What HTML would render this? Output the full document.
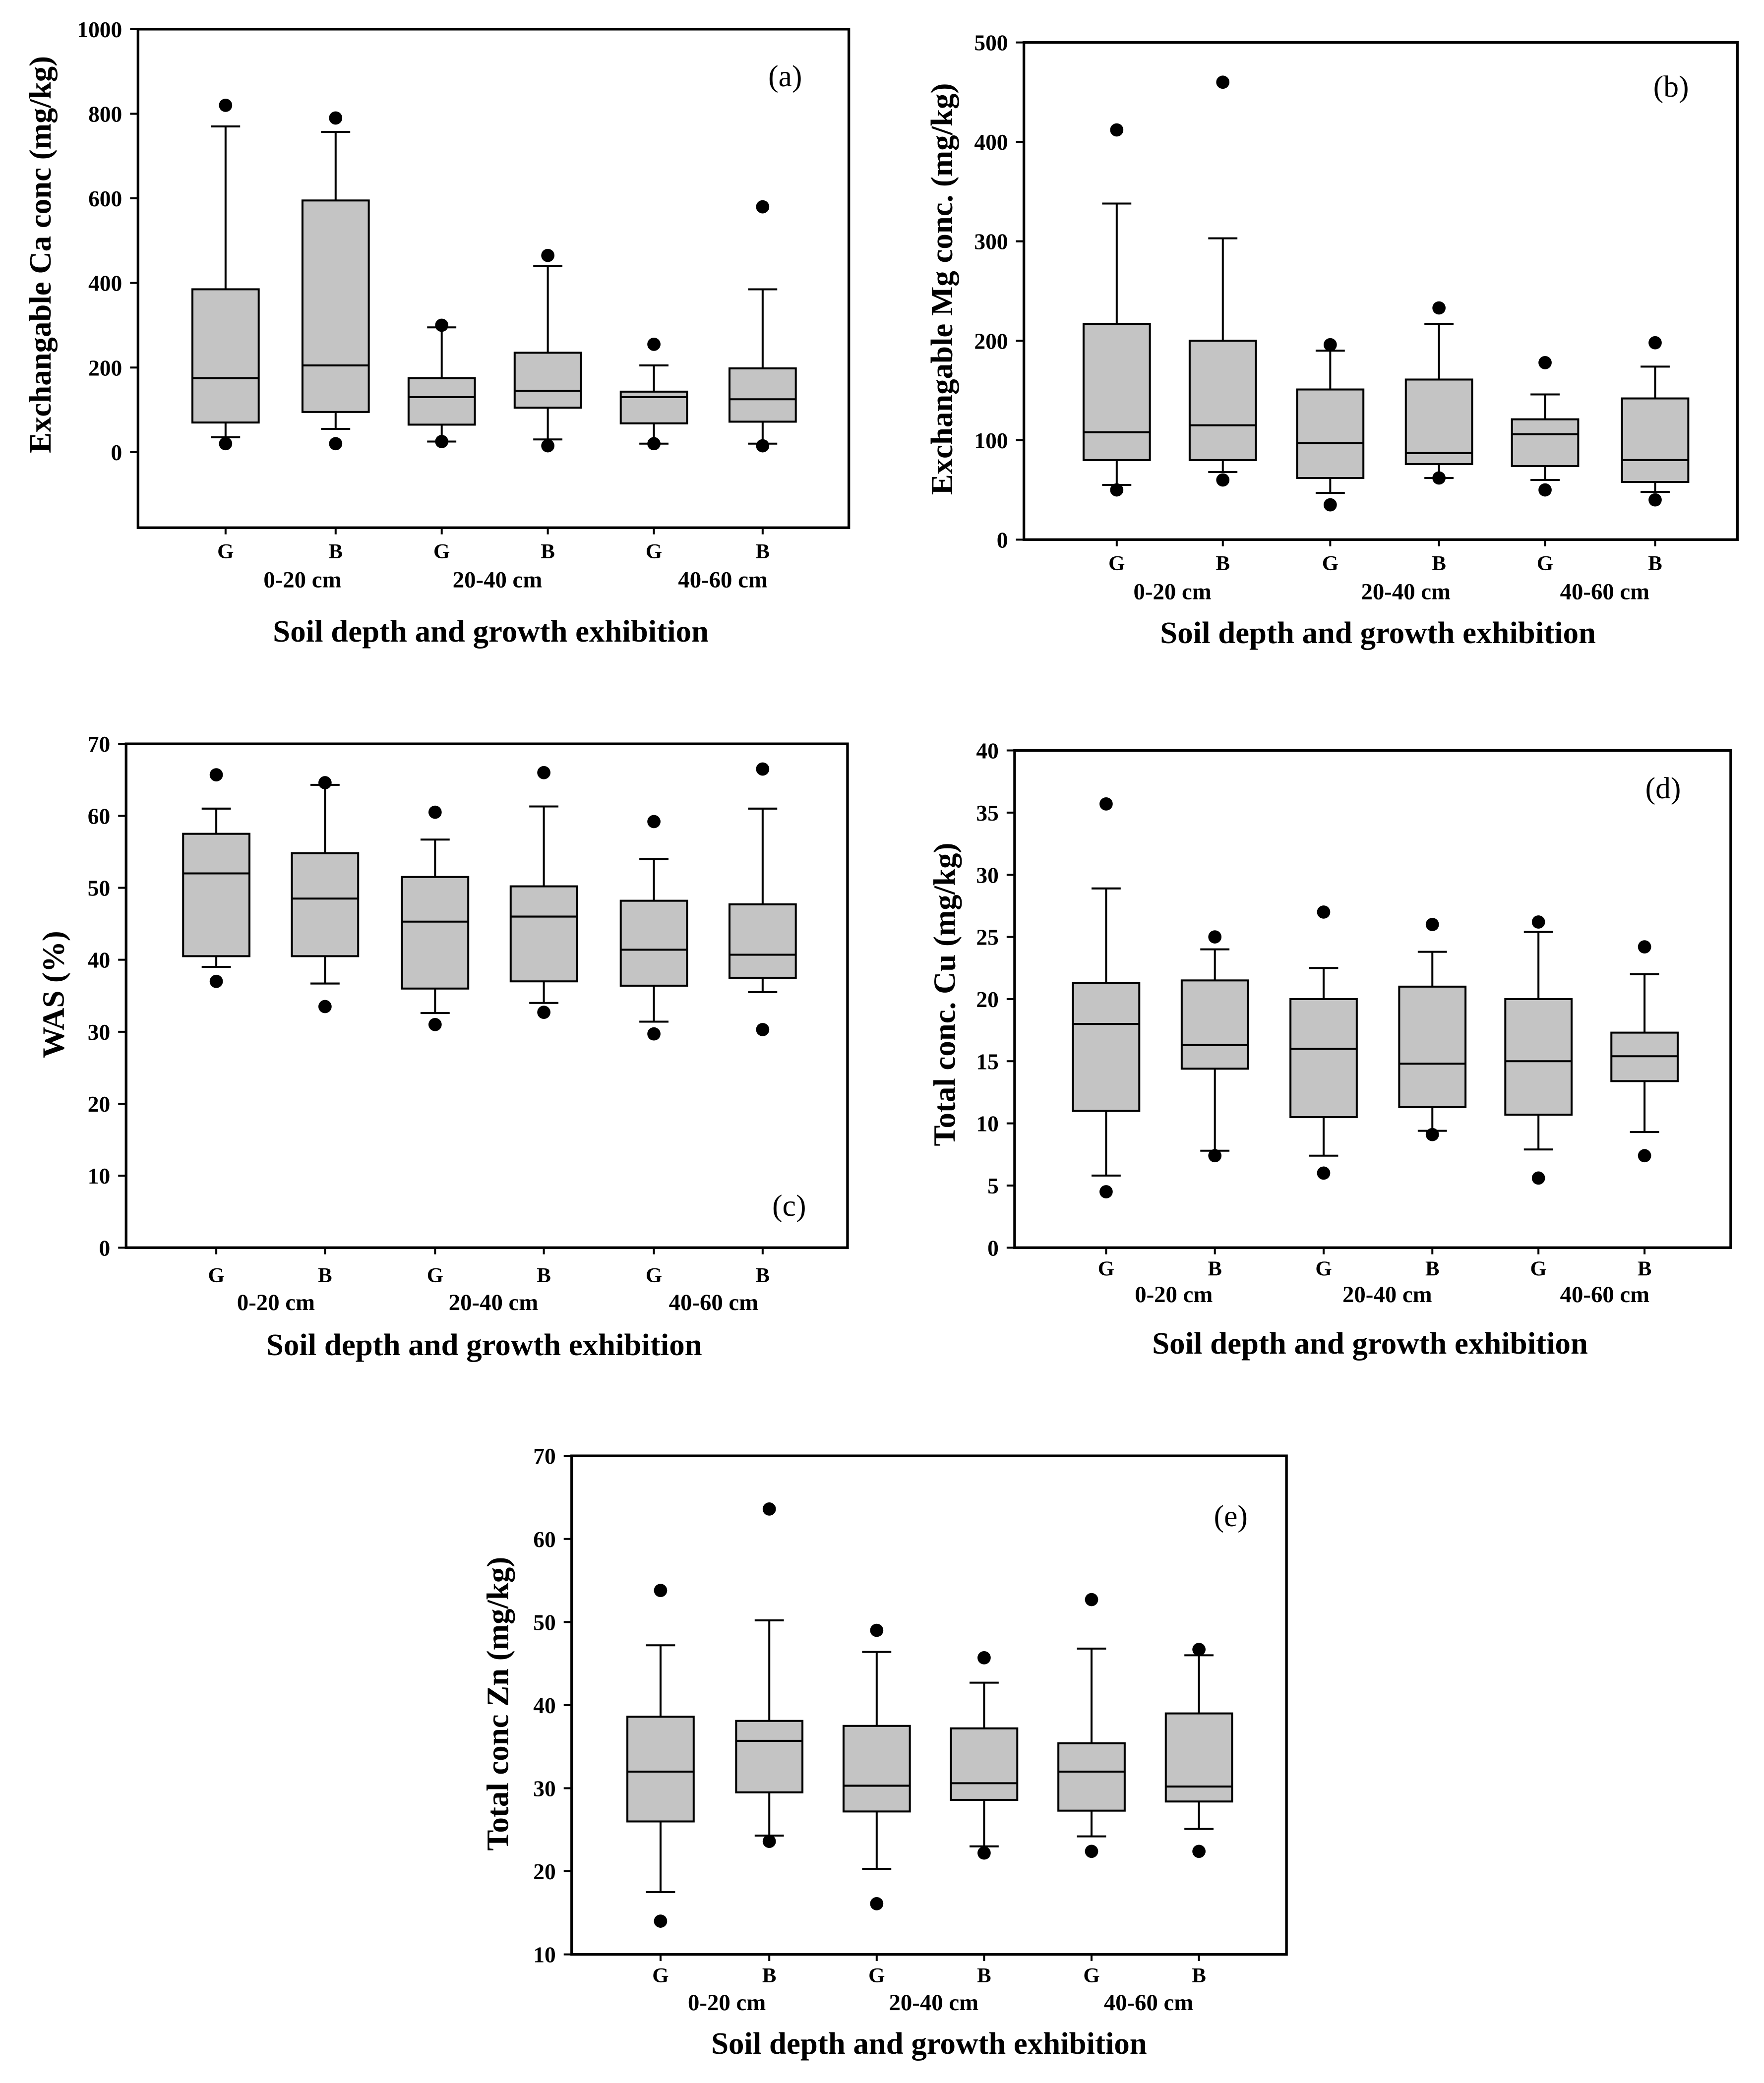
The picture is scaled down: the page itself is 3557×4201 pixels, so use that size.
<!DOCTYPE html>
<html><head><meta charset="utf-8"><style>
html,body{margin:0;padding:0;background:#fff;}
svg{display:block;}
text{font-family:"Liberation Serif",serif;font-weight:bold;fill:#000;}
</style></head><body>
<svg id="fig" width="3557" height="4201" viewBox="0 0 1330 1571" xmlns="http://www.w3.org/2000/svg"></svg>
<script>
// ---- data ----
const categories = ["G","B","G","B","G","B"];
const depthLabels = ["0-20 cm","20-40 cm","40-60 cm"];
// each box: [whiskerLow, q1, median, q3, whiskerHigh, outlierHigh, outlierLow]
const caBoxes = [[35,70,175,385,770,820,20],[55,95,205,595,757,790,20],[25,65,130,175,295,300,25],[30,105,145,235,440,465,15],[20,68,130,143,205,255,20],[20,72,125,198,385,580,15]];
const mgBoxes = [[55,80,108,217,338,412,50],[68,80,115,200,303,460,60],[47,62,97,151,190,196,35],[62,76,87,161,217,233,62],[60,74,106,121,146,178,50],[48,58,80,142,174,198,40]];
const wasBoxes = [[39,40.5,52,57.5,61,65.7,37],[36.7,40.5,48.5,54.8,64.3,64.6,33.5],[32.6,36,45.3,51.5,56.7,60.5,31],[34,37,46,50.2,61.3,66,32.7],[31.4,36.4,41.4,48.2,54,59.2,29.7],[35.5,37.5,40.7,47.7,61,66.5,30.3]];
const cuBoxes = [[5.8,11,18,21.3,28.9,35.7,4.5],[7.8,14.4,16.3,21.5,24,25,7.4],[7.4,10.5,16,20,22.5,27,6],[9.4,11.3,14.8,21,23.8,26,9.1],[7.9,10.7,15,20,25.4,26.2,5.6],[9.3,13.4,15.4,17.3,22,24.2,7.4]];
const znBoxes = [[17.5,26,32,38.6,47.2,53.8,14],[24.3,29.5,35.7,38.1,50.2,63.6,23.6],[20.3,27.2,30.3,37.5,46.4,49,16.1],[23,28.6,30.6,37.2,42.7,45.7,22.2],[24.2,27.3,32,35.4,46.8,52.7,22.4],[25.1,28.4,30.2,39,46,46.7,22.4]];
const caTicks = [0,200,400,600,800,1000];
const mgTicks = [0,100,200,300,400,500];
const wasTicks = [0,10,20,30,40,50,60,70];
const cuTicks = [0,5,10,15,20,25,30,35,40];
const znTicks = [10,20,30,40,50,60,70];

const NS="http://www.w3.org/2000/svg";
const svg=document.getElementById('fig');
function el(tag,attrs,parent){const e=document.createElementNS(NS,tag);for(const k in attrs)e.setAttribute(k,attrs[k]);(parent||svg).appendChild(e);return e;}

const panels=[
 {id:'a',boxes:caBoxes,ticks:caTicks,L:104,T:22,R:640,B:398,v0:0,y0:341,v1:1000,y1:22,xs:[170,253,333,413,493,575],ly:415,dy:437,ty:476,dxs:[228,375,545],title:'Exchangable Ca conc (mg/kg)',tx:30,tyc:192,lab:'(a)',lx:592,lyy:57},
 {id:'b',boxes:mgBoxes,ticks:mgTicks,L:772,T:32,R:1310,B:407,v0:0,y0:407,v1:500,y1:32,xs:[842,922,1003,1085,1165,1248],ly:424,dy:446,ty:477,dxs:[884,1060,1210],title:'Exchangable Mg conc. (mg/kg)',tx:710,tyc:218,lab:'(b)',lx:1260,lyy:65},
 {id:'c',boxes:wasBoxes,ticks:wasTicks,L:95,T:561,R:639,B:941,v0:0,y0:941,v1:70,y1:561,xs:[163,245,328,410,493,575],ly:961,dy:982,ty:1014,dxs:[208,372,538],title:'WAS (%)',tx:40,tyc:750,lab:'(c)',lx:595,lyy:909},
 {id:'d',boxes:cuBoxes,ticks:cuTicks,L:765,T:566,R:1305,B:941,v0:0,y0:941,v1:40,y1:566,xs:[834,916,998,1080,1160,1240],ly:956,dy:976,ty:1013,dxs:[885,1046,1210],title:'Total conc. Cu (mg/kg)',tx:712,tyc:750,lab:'(d)',lx:1254,lyy:594},
 {id:'e',boxes:znBoxes,ticks:znTicks,L:431,T:1098,R:970,B:1474,v0:10,y0:1474,v1:70,y1:1098,xs:[498,580,661,742,823,904],ly:1489,dy:1510,ty:1541,dxs:[548,704,866],title:'Total conc Zn (mg/kg)',tx:375,tyc:1285,lab:'(e)',lx:928,lyy:1143}
];

panels.forEach(p=>{
 const g=el('g',{});
 
 
 const Y=v=>p.y0+(v-p.v0)*(p.y1-p.y0)/(p.v1-p.v0);
 const fr=el('rect',{x:p.L,y:p.T,width:p.R-p.L,height:p.B-p.T,fill:'none',stroke:'#000','stroke-width':2},g);
 
 
 p.ticks.forEach(t=>{
  const y=Y(t);
  el('line',{x1:p.L-6,x2:p.L,y1:y,y2:y,stroke:'#000','stroke-width':1.5},g);
  const tx=el('text',{x:p.L-12,y:y+6,'text-anchor':'end','font-size':17},g);
  tx.textContent=t;
  
  
 });
 p.boxes.forEach((b,i)=>{
  const x=p.xs[i],w=50,c=11;
  const bg=el('g',{},g);
  
  
  el('line',{x1:x,x2:x,y1:Y(b[0]),y2:Y(b[1]),stroke:'#000','stroke-width':1.5},bg);
  el('line',{x1:x,x2:x,y1:Y(b[3]),y2:Y(b[4]),stroke:'#000','stroke-width':1.5},bg);
  el('line',{x1:x-c,x2:x+c,y1:Y(b[0]),y2:Y(b[0]),stroke:'#000','stroke-width':1.5},bg);
  el('line',{x1:x-c,x2:x+c,y1:Y(b[4]),y2:Y(b[4]),stroke:'#000','stroke-width':1.5},bg);
  el('rect',{x:x-w/2,y:Y(b[3]),width:w,height:Y(b[1])-Y(b[3]),fill:'#c4c4c4',stroke:'#000','stroke-width':1.5},bg);
  el('line',{x1:x-w/2,x2:x+w/2,y1:Y(b[2]),y2:Y(b[2]),stroke:'#000','stroke-width':1.5},bg);
  el('circle',{cx:x,cy:Y(b[5]),r:5,fill:'#000'},bg);
  el('circle',{cx:x,cy:Y(b[6]),r:5,fill:'#000'},bg);
  el('line',{x1:x,x2:x,y1:p.B,y2:p.B+5,stroke:'#000','stroke-width':1.5},g);
  const l=el('text',{x:x,y:p.ly+6,'text-anchor':'middle','font-size':16},g);
  l.textContent=categories[i];
  
  
 });
 depthLabels.forEach((d,j)=>{
  const t=el('text',{x:p.dxs[j],y:p.dy+6,'text-anchor':'middle','font-size':17.5},g);
  t.textContent=d;
  
  
 });
 const xt=el('text',{x:(p.L+p.R)/2-(p.id==='e'?0:2),y:p.ty+8,'text-anchor':'middle','font-size':23.5},g);
 xt.textContent='Soil depth and growth exhibition';
 
 
 const yt=el('text',{x:0,y:0,'text-anchor':'middle','font-size':23.5,transform:`translate(${p.tx+8},${p.tyc}) rotate(-90)`},g);
 yt.textContent=p.title;
 
 
 const pl=el('text',{x:p.lx,y:p.lyy+8,'text-anchor':'middle','font-size':23,style:'font-weight:normal'},g);
 pl.textContent='('+p.id+')';
 
 
});
</script>
</body></html>
